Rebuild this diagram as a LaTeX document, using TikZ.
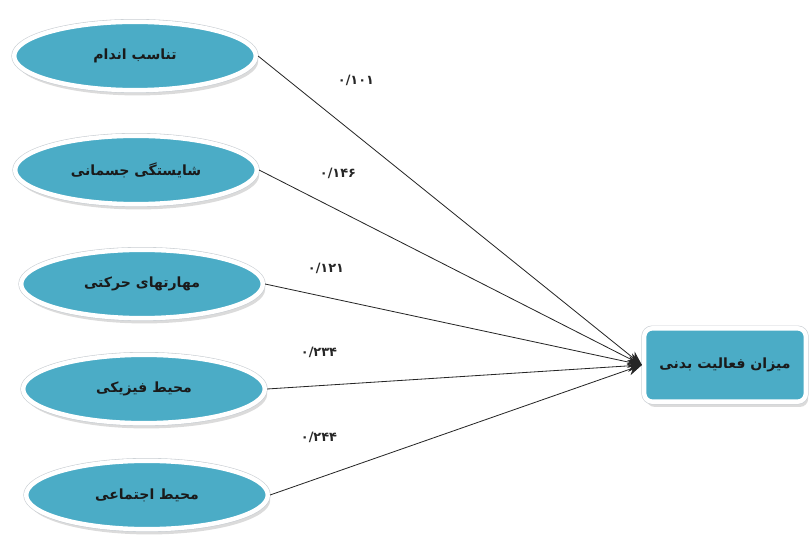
\documentclass[tikz,border=0pt]{standalone}
\usepackage{fontspec}
\TeXXeTstate=1
\newfontfamily\arabicfont[Script=Arabic]{DejaVu Sans}
\usetikzlibrary{arrows.meta, shadows, shapes.geometric}
\definecolor{factorblue}{HTML}{4BACC6}
\definecolor{ringgray}{HTML}{C8CDD2}
\definecolor{textdark}{HTML}{1A1A1A}

\begin{document}
\begin{tikzpicture}[
    x=0.03cm, y=-0.03cm,
    factor/.style={ellipse, minimum width=7.25cm, minimum height=2.05cm, fill=factorblue,
      draw=white, line width=3.8pt,
      drop shadow={shadow xshift=2pt, shadow yshift=-4.5pt, fill=black!28},
      preaction={draw=ringgray, line width=4.8pt},
      font=\arabicfont\bfseries\fontsize{12}{14}\selectfont, text=textdark},
    outcome/.style={rectangle, rounded corners=7pt, minimum width=4.85cm, minimum height=2.2cm,
      fill=factorblue, draw=white, line width=3.8pt,
      drop shadow={shadow xshift=2pt, shadow yshift=-4.5pt, fill=black!28},
      preaction={draw=ringgray, line width=4.8pt},
      font=\arabicfont\bfseries\fontsize{12}{14}\selectfont, text=textdark},
    path/.style={-{Stealth[length=12pt, width=10pt]}, line width=0.7pt, color=black!85},
    weight/.style={font=\arabicfont\bfseries\fontsize{11}{13}\selectfont, text=black!85},
]
\useasboundingbox (0,0) rectangle (812,542);

% Factor nodes
\node[factor] (fit) at (135,56) {\beginR تناسب اندام\endR};
\node[factor] (comp) at (136,170) {\beginR شایستگی جسمانی\endR};
\node[factor] (motor) at (142,284) {\beginR مهارتهای حرکتی\endR};
\node[factor] (phys) at (144,389) {\beginR محیط فیزیکی\endR};
\node[factor] (soc) at (147,495) {\beginR محیط اجتماعی\endR};

% Outcome node
\node[outcome] (act) at (725,365) {\beginR میزان فعالیت بدنی\endR};

% Paths to outcome
\draw[path] (fit.east) -- (act.west);
\draw[path] (comp.east) -- (act.west);
\draw[path] (motor.east) -- (act.west);
\draw[path] (phys.east) -- (act.west);
\draw[path] (soc.east) -- (act.west);

% Path weights
\node[weight] (w1) at (356,80) {۰/۱۰۱};
\node[weight] (w2) at (338,173) {۰/۱۴۶};
\node[weight] (w3) at (326,268) {۰/۱۲۱};
\node[weight] (w4) at (319,352) {۰/۲۳۴};
\node[weight] (w5) at (319,437) {۰/۲۴۴};

\end{tikzpicture}
\end{document}
